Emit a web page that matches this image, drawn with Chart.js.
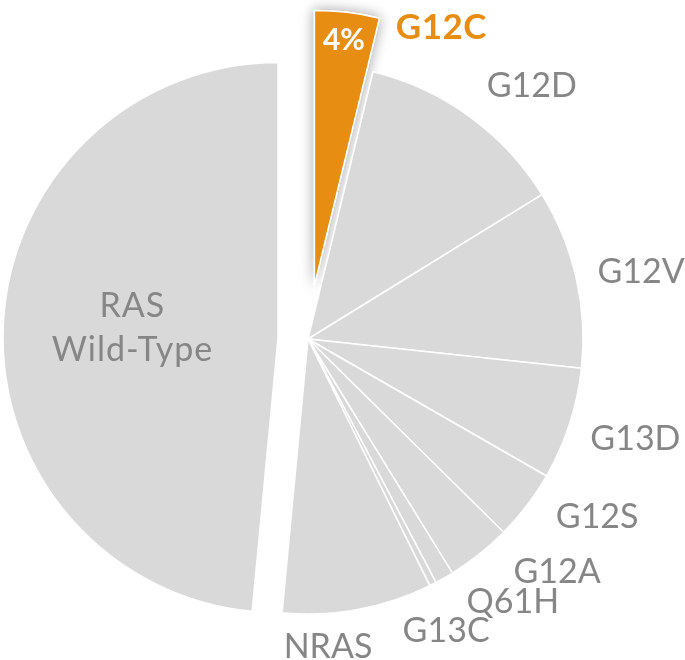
<!DOCTYPE html>
<html>
<head>
<meta charset="utf-8">
<script src="https://cdn.jsdelivr.net/npm/chart.js@4.4.1/dist/chart.umd.min.js"></script>
<style>
  html, body { margin: 0; padding: 0; background: #fff; }
  #wrap { width: 685px; height: 660px; }
</style>
</head>
<body>
<div id="wrap"><canvas id="rasPie"></canvas></div>
<script>
// share of cases by RAS status (percent), clockwise from 12 o'clock
const categories = ['G12C', 'G12D', 'G12V', 'G13D', 'G12S', 'G12A', 'Q61H', 'G13C', 'NRAS', ['RAS', 'Wild-Type']];
const shares = [3.8, 12.4, 10.5, 6.6, 4.1, 3.8, 1.1, 0.4, 8.8, 48.5];
const highlight = 'G12C';

// layout only: how far slices are pulled out, and where each label sits
// [angle nudge from slice middle in degrees, distance from slice centre]
const explode = [54, 0, 0, 0, 0, 0, 0, 0, 0, 30];
const labelSpots = [[19.3, 288], [5.3, 339], [1.2, 340], [-1.2, 342], [-5.8, 339],
                    [-8.6, 340], [-8.4, 332], [1.6, 322], [6.7, 307], [1.5, 146]];

const ORANGE = '#e68d12';
const GREY = '#d9d9d9';
const TEXT = '#868686';
const FONT = 'Lato, "Open Sans", sans-serif';

const colors = categories.map(c => c === highlight ? ORANGE : GREY);

const explodePlugin = {
  id: 'explode',
  afterDatasetUpdate(chart, args) {
    const meta = chart.getDatasetMeta(args.index);
    meta.data.forEach((arc, i) => {
      const d = explode[i] || 0;
      if (!d) return;
      const mid = (arc.startAngle + arc.endAngle) / 2;
      arc.x += Math.cos(mid) * d;
      arc.y += Math.sin(mid) * d;
    });
  },
  beforeDatasetsDraw(chart) {
    // soft drop shadow under the highlighted slice
    const arc = chart.getDatasetMeta(0).data[categories.indexOf(highlight)];
    const ctx = chart.ctx;
    ctx.save();
    ctx.shadowColor = 'rgba(0,0,0,0.35)';
    ctx.shadowBlur = 14;
    arc.draw(ctx);
    ctx.restore();
  }
};

function drawText(ctx, txt, x, capY, size, weight, color, spacing) {
  ctx.font = weight + ' ' + size + 'px ' + FONT;
  ctx.letterSpacing = spacing || '0px';
  ctx.fillStyle = color;
  ctx.textAlign = 'center';
  ctx.textBaseline = 'alphabetic';
  ctx.fillText(txt, x, capY + size * 0.36);
}

const labelPlugin = {
  id: 'outerLabels',
  afterDraw(chart) {
    const ctx = chart.ctx;
    const arcs = chart.getDatasetMeta(0).data;
    ctx.save();
    arcs.forEach((arc, i) => {
      const mid = (arc.startAngle + arc.endAngle) / 2;
      const [nudge, dist] = labelSpots[i];
      const a = mid + nudge * Math.PI / 180;
      const x = arc.x + Math.cos(a) * dist;
      const y = arc.y + Math.sin(a) * dist;
      const lab = categories[i];
      if (Array.isArray(lab)) {
        drawText(ctx, lab[0], x, y - 22, 34, 'normal', TEXT, '1px');
        drawText(ctx, lab[1], x, y + 22, 34, 'normal', TEXT, '1px');
      } else if (lab === highlight) {
        drawText(ctx, lab, x, y, 35, 'bold', ORANGE, '0.5px');
        // value inside the slice
        const vx = arc.x + Math.cos(mid) * 248;
        const vy = arc.y + Math.sin(mid) * 248;
        drawText(ctx, Math.round(shares[i]) + '%', vx, vy, 30, 'bold', '#ffffff');
      } else {
        drawText(ctx, lab, x, y, 34, 'normal', TEXT);
      }
    });
    ctx.restore();
  }
};

new Chart(document.getElementById('rasPie'), {
  type: 'pie',
  data: {
    labels: categories,
    datasets: [{
      data: shares,
      backgroundColor: colors,
      borderColor: '#ffffff',
      borderWidth: 1.5
    }]
  },
  options: {
    responsive: true,
    maintainAspectRatio: false,
    animation: false,
    events: [],
    radius: 275,
    layout: { padding: { left: 10, right: 79, top: 20, bottom: 2 } },
    plugins: {
      legend: { display: false },
      tooltip: { enabled: false }
    }
  },
  plugins: [explodePlugin, labelPlugin]
});
</script>
</body>
</html>
